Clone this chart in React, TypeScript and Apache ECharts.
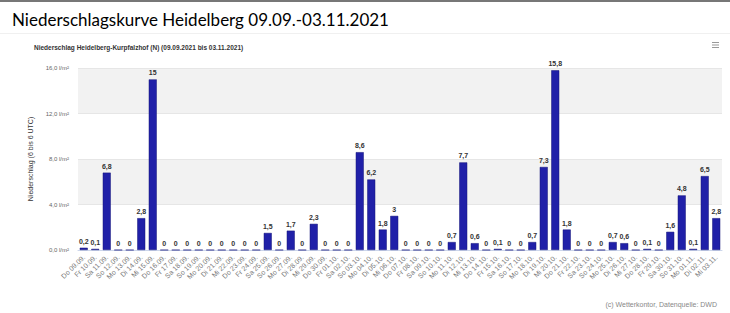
import React, { useEffect, useRef } from "react";
import * as echarts from "echarts";

const dayLabels: string[] = [
  "Do 09.09.", "Fr 10.09.", "Sa 11.09.", "So 12.09.", "Mo 13.09.", "Di 14.09.", "Mi 15.09.",
  "Do 16.09.", "Fr 17.09.", "Sa 18.09.", "So 19.09.", "Mo 20.09.", "Di 21.09.", "Mi 22.09.",
  "Do 23.09.", "Fr 24.09.", "Sa 25.09.", "So 26.09.", "Mo 27.09.", "Di 28.09.", "Mi 29.09.",
  "Do 30.09.", "Fr 01.10.", "Sa 02.10.", "So 03.10.", "Mo 04.10.", "Di 05.10.", "Mi 06.10.",
  "Do 07.10.", "Fr 08.10.", "Sa 09.10.", "So 10.10.", "Mo 11.10.", "Di 12.10.", "Mi 13.10.",
  "Do 14.10.", "Fr 15.10.", "Sa 16.10.", "So 17.10.", "Mo 18.10.", "Di 19.10.", "Mi 20.10.",
  "Do 21.10.", "Fr 22.10.", "Sa 23.10.", "So 24.10.", "Mo 25.10.", "Di 26.10.", "Mi 27.10.",
  "Do 28.10.", "Fr 29.10.", "Sa 30.10.", "So 31.10.", "Mo 01.11.", "Di 02.11.", "Mi 03.11.",
];

const precipitation: number[] = [
  0.2, 0.1, 6.8, 0, 0, 2.8, 15,
  0, 0, 0, 0, 0, 0, 0,
  0, 0, 1.5, 0, 1.7, 0, 2.3,
  0, 0, 0, 8.6, 6.2, 1.8, 3,
  0, 0, 0, 0, 0.7, 7.7, 0.6,
  0, 0.1, 0, 0, 0.7, 7.3, 15.8,
  1.8, 0, 0, 0, 0.7, 0.6, 0,
  0.1, 0, 1.6, 4.8, 0.1, 6.5, 2.8,
];

const mainTitle = "Niederschlagskurve Heidelberg 09.09.-03.11.2021";
const chartTitle = "Niederschlag Heidelberg-Kurpfalzhof (N) (09.09.2021 bis 03.11.2021)";
const yAxisName = "Niederschlag (6 bis 6 UTC)";
const credits = "(c) Wetterkontor, Datenquelle: DWD";

const fmt = (v: number) => String(v).replace(".", ",");

export default function App() {
  const ref = useRef<HTMLDivElement>(null);
  useEffect(() => {
    if (!ref.current) return;
    const chart = echarts.init(ref.current, null, { renderer: "svg" });
    chart.setOption({
      animation: false,
      backgroundColor: "#ffffff",
      textStyle: { fontFamily: "Liberation Sans, Arial, sans-serif" },
      title: [
        {
          text: mainTitle,
          left: 7,
          top: 6,
          textStyle: { fontFamily: "Lato", fontSize: 17, fontWeight: "normal", color: "#000" },
        },
        {
          text: chartTitle,
          left: 29,
          top: 39,
          textStyle: { fontSize: 6.5, fontWeight: "bold", color: "#333" },
        },
        {
          text: credits,
          right: 8,
          top: 296,
          textStyle: { fontSize: 7, fontWeight: "normal", color: "#888" },
        },
      ],
      graphic: [
        { type: "rect", shape: { x: 0, y: 0, width: 730, height: 2 }, style: { fill: "#777" } },
        { type: "rect", shape: { x: 0, y: 33, width: 730, height: 1 }, style: { fill: "#f0f0f0" } },
        { type: "rect", shape: { x: 712, y: 42, width: 7, height: 1 }, style: { fill: "#999" } },
        { type: "rect", shape: { x: 712, y: 44.5, width: 7, height: 1 }, style: { fill: "#999" } },
        { type: "rect", shape: { x: 712, y: 47, width: 7, height: 1 }, style: { fill: "#999" } },
      ],
      grid: { left: 78, right: 8, top: 68, bottom: 63, containLabel: false },
      xAxis: {
        type: "category",
        data: dayLabels,
        axisLine: { lineStyle: { color: "#ccd6eb" } },
        axisTick: { show: false },
        axisLabel: { rotate: 45, fontSize: 7, color: "#777", margin: 6, interval: 0 },
      },
      yAxis: {
        type: "value",
        min: 0,
        max: 16,
        interval: 4,
        name: yAxisName,
        nameLocation: "middle",
        nameGap: 44,
        nameTextStyle: { fontSize: 7, color: "#333" },
        axisLabel: {
          fontSize: 6,
          color: "#666",
          margin: 9,
          formatter: (v: number) => v.toFixed(1).replace(".", ",") + " l/m²",
        },
        splitLine: { show: true, lineStyle: { color: "#e6e6e6" } },
        splitArea: { show: true, areaStyle: { color: ["#ffffff", "#f2f2f2"] } },
      },
      series: [
        {
          type: "bar",
          data: precipitation,
          barWidth: 8,
          itemStyle: { color: "#2020a8", borderColor: "#16167a", borderWidth: 0.5 },
          label: {
            show: true,
            position: "top",
            distance: 3,
            fontSize: 7,
            fontWeight: "bold",
            color: "#333",
            formatter: (p: any) => fmt(p.value),
          },
        },
      ],
    });
    return () => chart.dispose();
  }, []);
  return (
    <div
      ref={ref}
      style={{ position: "fixed", left: 0, top: 0, width: 730, height: 313 }}
    />
  );
}
